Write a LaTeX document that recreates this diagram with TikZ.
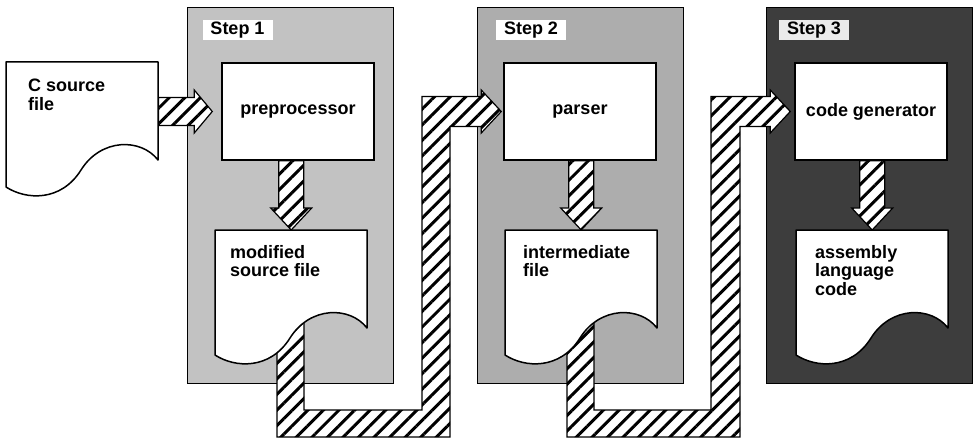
\documentclass[tikz,border=0pt]{standalone}
\usepackage{fontspec}
\setmainfont{Liberation Sans}
\usetikzlibrary{calc,patterns.meta}

\definecolor{panelone}{gray}{0.76}
\definecolor{paneltwo}{gray}{0.68}
\definecolor{panelthree}{gray}{0.24}
\definecolor{labelbg}{gray}{0.92}
\newcommand{\diaglabel}{\bfseries\fontsize{18}{18.5}\selectfont}

% document outline with a wavy lower edge, drawn over the node #1
\newcommand{\docoutline}[1]{%
  \draw[docline] (#1.north west) -- ($(#1.north west)+(152,0)$) -- ($(#1.north west)+(152,98)$)
    .. controls ($(#1.north west)+(135,76)$) and ($(#1.north west)+(95,76)$) .. ($(#1.north west)+(75,108)$)
    .. controls ($(#1.north west)+(55,140)$) and ($(#1.north west)+(20,138)$) .. ($(#1.north west)+(0,125)$)
    -- cycle;}

% hatched arrow pointing down from the box #2 to the tip coordinate #1
\newcommand{\downhatch}[2]{%
  \draw[hatched] ($(#1 |- #2.south)+(-12.5,0)$) -- ($(#1)+(-12.5,-22)$) -- ($(#1)+(-20.5,-22)$)
    -- (#1) -- ($(#1)+(20.5,-22)$) -- ($(#1)+(12.5,-22)$) -- ($(#1 |- #2.south)+(12.5,0)$) -- cycle;}

\begin{document}
\begin{tikzpicture}[x=1pt,y=-1pt,
  panel/.style={draw=black, line width=1.1pt, anchor=north west, inner sep=0pt,
                minimum width=206pt, minimum height=376pt},
  steplabel/.style={fill=white, inner sep=0pt, minimum width=70pt, minimum height=20pt, font=\diaglabel},
  procbox/.style={draw=black, fill=white, line width=1.5pt, minimum width=152pt,
                  minimum height=97pt, inner sep=0pt, font=\diaglabel},
  docarea/.style={anchor=north west, minimum width=152pt, minimum height=125pt, inner sep=0pt},
  docline/.style={draw=black, fill=white, line width=1.5pt, line join=round},
  doctext/.style={anchor=north west, align=left, inner sep=0pt, font=\diaglabel},
  hatched/.style={draw=black, line width=1.2pt, line join=miter, preaction={fill=white},
                  pattern={Lines[angle=45,distance=11pt,line width=3pt]}},
]
\useasboundingbox (0,0) rectangle (973,438);

% the three stages
\node[panel, fill=panelone]   (step1) at (187,7) {};
\node[panel, fill=paneltwo]   (step2) at (477,7) {};
\node[panel, fill=panelthree] (step3) at (766,7) {};

\node[steplabel] (lab1) at (237.5,30) {Step 1};
\node[steplabel] (lab2) at (531,30) {Step 2};
\node[steplabel, fill=labelbg] (lab3) at (814,30) {Step 3};

% processing boxes
\node[procbox] (pre) at (298,111.5) {preprocessor};
\node[procbox] (par) at (580,111.5) {parser};
\node[procbox] (gen) at (871,111.5) {code generator};

% document areas
\node[docarea] (src) at (6,62) {};
\node[docarea] (mod) at (215,230) {};
\node[docarea] (imd) at (505,230) {};
\node[docarea] (asm) at (796,230) {};

% source file into the preprocessor
\coordinate (t0) at ($(pre.west)+(-9,0)$);
\draw[hatched] ($(t0 -| src.east)+(0,-14)$) -- ($(t0)+(-18,-14)$) -- ($(t0)+(-18,-21.5)$)
  -- (t0) -- ($(t0)+(-18,21.5)$) -- ($(t0)+(-18,14)$) -- ($(t0 -| src.east)+(0,14)$) -- cycle;

% each box writes its output file
\downhatch{mod.north}{pre}
\downhatch{imd.north}{par}
\downhatch{asm.north}{gen}

% modified source file carried on to the parser
\coordinate (t1) at ($(par.west)+(-2,0)$);
\coordinate (b1) at ($(mod.north west)+(62,70)$);
\draw[hatched] (b1) |- (450,437) |- ($(t1)+(-20,15)$) -- ($(t1)+(-20,21.5)$) -- (t1)
  -- ($(t1)+(-20,-21.5)$) -- ($(t1)+(-20,-15)$) -| (422,410) -| ($(b1)+(27,0)$) -- cycle;

% intermediate file carried on to the code generator
\coordinate (t2) at ($(gen.west)+(-4,0)$);
\coordinate (b2) at ($(imd.north west)+(62,70)$);
\draw[hatched] (b2) |- (740,437) |- ($(t2)+(-20,15)$) -- ($(t2)+(-20,21.5)$) -- (t2)
  -- ($(t2)+(-20,-21.5)$) -- ($(t2)+(-20,-15)$) -| (711,410) -| ($(b2)+(27,0)$) -- cycle;

% files
\docoutline{src}
\docoutline{mod}
\docoutline{imd}
\docoutline{asm}

\node[doctext] (srctxt) at ($(src.north west)+(22,17)$) {C source\\file};
\node[doctext] (modtxt) at ($(mod.north west)+(15,15)$) {modified\\source file};
\node[doctext] (imdtxt) at ($(imd.north west)+(18,15)$) {intermediate\\file};
\node[doctext] (asmtxt) at ($(asm.north west)+(19,15)$) {assembly\\language\\code};
\end{tikzpicture}
\end{document}
